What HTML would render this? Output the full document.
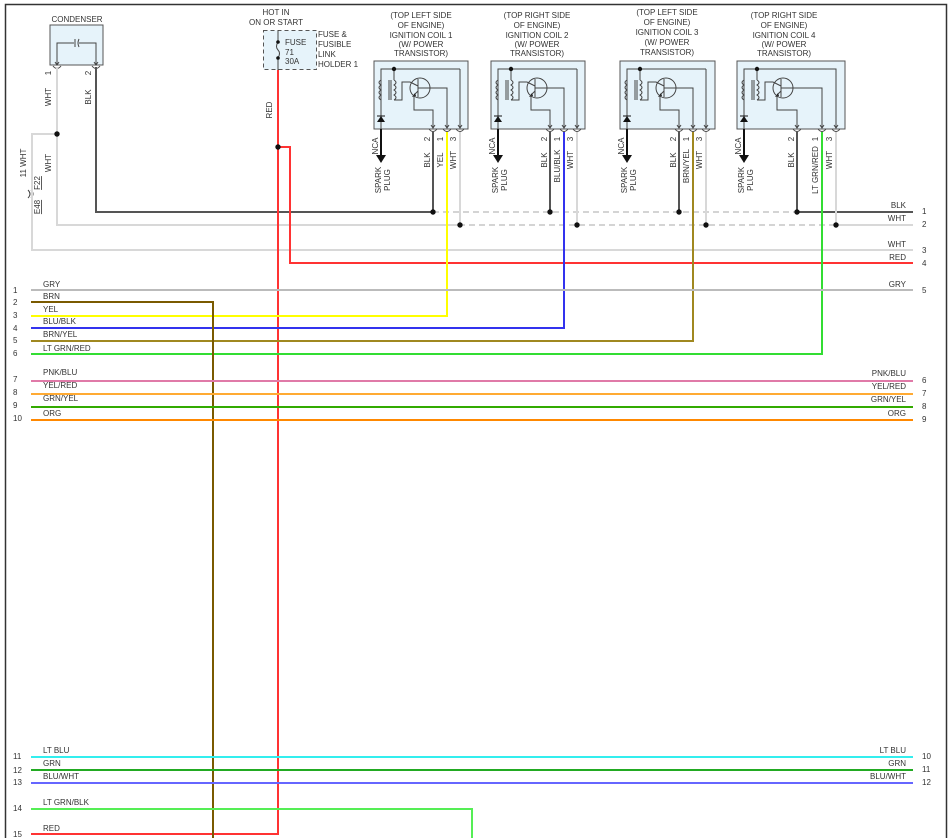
<!DOCTYPE html>
<html><head><meta charset="utf-8"><style>
html,body{margin:0;padding:0;background:#fff;}
svg{display:block;font-family:"Liberation Sans",sans-serif;font-size:8px;fill:#333;}
</style></head><body>
<svg width="952" height="838" viewBox="0 0 952 838" xmlns="http://www.w3.org/2000/svg">
<rect x="5.5" y="4.5" width="941" height="840" fill="none" stroke="#333" stroke-width="1.5"/>

<!-- Condenser -->
<text x="77" y="22" text-anchor="middle">CONDENSER</text>
<rect x="50" y="25" width="53" height="40" fill="#e6f3fa" stroke="#555"/>
<polyline points="57,65 57,43 74,43" fill="none" stroke="#444"/>
<polyline points="79,43 96,43 96,65" fill="none" stroke="#444"/>
<line x1="75" y1="39" x2="75" y2="47" stroke="#444"/><path d="M79,39 Q77,43 79,47" fill="none" stroke="#444"/>
<path d="M53,66 q4,5 8,0 M92,66 q4,5 8,0" fill="none" stroke="#444"/>
<path d="M55,62 l2,3 l2,-3 M94,62 l2,3 l2,-3" fill="none" stroke="#444"/>
<text transform="translate(51,73) rotate(-90)" text-anchor="middle">1</text>
<text transform="translate(91,73) rotate(-90)" text-anchor="middle">2</text>
<text transform="translate(51,97) rotate(-90)" text-anchor="middle">WHT</text>
<text transform="translate(91,97) rotate(-90)" text-anchor="middle">BLK</text>
<text transform="translate(51,163) rotate(-90)" text-anchor="middle">WHT</text>
<text transform="translate(26,163) rotate(-90)" text-anchor="middle">11  WHT</text>
<text transform="translate(40,183) rotate(-90)" text-anchor="middle" text-decoration="underline">F22</text>
<text transform="translate(40,207) rotate(-90)" text-anchor="middle" text-decoration="underline">E48</text>
<path d="M28,190 q4,4 0,8 M31,190 q4,4 0,8" fill="none" stroke="#444"/>

<!-- WHT/BLK from condenser -->
<polyline points="57,67 57,225 459,225" fill="none" stroke="#d8d8d8" stroke-width="2"/>
<polyline points="57,134 32,134 32,250 913,250" fill="none" stroke="#d8d8d8" stroke-width="2"/>
<circle cx="57" cy="134" r="2.7" fill="#111"/>
<polyline points="96,67 96,212 433,212" fill="none" stroke="#555" stroke-width="2"/>

<!-- Fuse -->
<text x="276" y="15" text-anchor="middle">HOT IN</text>
<text x="276" y="25" text-anchor="middle">ON OR START</text>
<rect x="263.5" y="30.5" width="53" height="39" fill="#e6f3fa" stroke="#555" stroke-dasharray="4,3"/>
<line x1="278" y1="30" x2="278" y2="42" stroke="#444"/>
<path d="M278,42 q-3,5 0,8 q3,3 0,8" fill="none" stroke="#444"/>
<line x1="278" y1="58" x2="278" y2="70" stroke="#444"/>
<circle cx="278" cy="42" r="1.8" fill="#111"/><circle cx="278" cy="58" r="1.8" fill="#111"/>
<text x="285" y="45">FUSE</text><text x="285" y="55">71</text><text x="285" y="64">30A</text>
<text x="318" y="37">FUSE &amp;</text><text x="318" y="47">FUSIBLE</text><text x="318" y="57">LINK</text><text x="318" y="67">HOLDER 1</text>
<polyline points="278,70 278,834 31,834" fill="none" stroke="#f33" stroke-width="2"/>
<polyline points="278,147 290,147 290,263 913,263" fill="none" stroke="#f33" stroke-width="2"/>
<circle cx="278" cy="147" r="2.7" fill="#111"/>
<text transform="translate(272,110) rotate(-90)" text-anchor="middle">RED</text>

<!-- Bus dashes -->
<line x1="433" y1="212" x2="797" y2="212" stroke="#aaa" stroke-dasharray="6,4"/>
<line x1="459" y1="225" x2="836" y2="225" stroke="#aaa" stroke-dasharray="6,4"/>
<line x1="797" y1="212" x2="913" y2="212" stroke="#555" stroke-width="2"/>
<line x1="836" y1="225" x2="913" y2="225" stroke="#d8d8d8" stroke-width="2"/>
<text x="906" y="208" text-anchor="end">BLK</text><text x="922" y="214">1</text>
<text x="906" y="221" text-anchor="end">WHT</text><text x="922" y="227">2</text>
<text x="906" y="247" text-anchor="end">WHT</text><text x="922" y="253">3</text>
<text x="906" y="260" text-anchor="end">RED</text><text x="922" y="266">4</text>

<!-- Coil definitions -->
<defs>
<g id="coilint">
  <polyline points="381,129 381,69 460,69" fill="none" stroke="#444"/>
  <path d="M381,80 q-4,2.5 0,5 q-4,2.5 0,5 q-4,2.5 0,5 q-4,2.5 0,5" fill="none" stroke="#444"/>
  <line x1="389" y1="80" x2="389" y2="100" stroke="#444"/>
  <line x1="391" y1="80" x2="391" y2="100" stroke="#444"/>
  <polyline points="394,69 394,80" fill="none" stroke="#444"/>
  <path d="M394,80 q4,2.5 0,5 q4,2.5 0,5 q4,2.5 0,5 q4,2.5 0,5" fill="none" stroke="#444"/>
  <polyline points="394,100 402,100 402,82 410,82" fill="none" stroke="#444"/>
  <circle cx="394" cy="69" r="2.2" fill="#111"/>
  <circle cx="420" cy="88" r="10" fill="none" stroke="#444"/>
  <line x1="418" y1="79" x2="418" y2="97" stroke="#444"/>
  <line x1="410" y1="82" x2="418" y2="86" stroke="#444"/>
  <line x1="418" y1="88" x2="430" y2="88" stroke="#444"/>
  <line x1="418" y1="91" x2="414" y2="95" stroke="#444"/>
  <path d="M412,97 l4,-1 l-1,-3z" fill="#222"/>
  <polygon points="377,122 385,122 381,116" fill="#111"/>
  <line x1="377" y1="116" x2="385" y2="116" stroke="#111"/>
  <line x1="381" y1="129" x2="381" y2="155" stroke="#111" stroke-width="2"/>
  <polygon points="376,155 386,155 381,163" fill="#111"/>
  <text transform="translate(378,146) rotate(-90)" text-anchor="middle">NCA</text>
  <text transform="translate(381,180) rotate(-90)" text-anchor="middle">SPARK</text>
  <text transform="translate(390,180) rotate(-90)" text-anchor="middle">PLUG</text>
</g>
<path id="pin" d="M-4,129 q4,5 8,0 M-2,125 l2,3 l2,-3" fill="none" stroke="#444"/>
</defs>

<!-- Coil 1 -->
<g>
<text x="421" y="18" text-anchor="middle">(TOP LEFT SIDE</text><text x="421" y="28" text-anchor="middle">OF ENGINE)</text><text x="421" y="38" text-anchor="middle">IGNITION COIL 1</text><text x="421" y="47" text-anchor="middle">(W/ POWER</text><text x="421" y="56" text-anchor="middle">TRANSISTOR)</text>
<rect x="374" y="61" width="94" height="68" fill="#e6f3fa" stroke="#555"/>
<use href="#coilint"/>
<polyline points="460,69 460,128" fill="none" stroke="#444"/>
<polyline points="430,88 447,88 447,128" fill="none" stroke="#444"/>
<polyline points="414,95 414,110 433,110 433,128" fill="none" stroke="#444"/>
<use href="#pin" x="433"/><use href="#pin" x="447"/><use href="#pin" x="460"/>
<text transform="translate(430,139) rotate(-90)" text-anchor="middle">2</text>
<text transform="translate(443,139) rotate(-90)" text-anchor="middle">1</text>
<text transform="translate(456,139) rotate(-90)" text-anchor="middle">3</text>
<text transform="translate(430,160) rotate(-90)" text-anchor="middle">BLK</text>
<text transform="translate(443,160) rotate(-90)" text-anchor="middle">YEL</text>
<text transform="translate(456,160) rotate(-90)" text-anchor="middle">WHT</text>
<line x1="433" y1="132" x2="433" y2="212" stroke="#555" stroke-width="2"/>
<line x1="460" y1="132" x2="460" y2="225" stroke="#d8d8d8" stroke-width="2"/>
<polyline points="447,132 447,316 31,316" fill="none" stroke="#ff0" stroke-width="2"/>
<circle cx="433" cy="212" r="2.7" fill="#111"/><circle cx="460" cy="225" r="2.7" fill="#111"/>
</g>

<!-- Coil 2 -->
<g>
<text x="537" y="18" text-anchor="middle">(TOP RIGHT SIDE</text><text x="537" y="28" text-anchor="middle">OF ENGINE)</text><text x="537" y="38" text-anchor="middle">IGNITION COIL 2</text><text x="537" y="47" text-anchor="middle">(W/ POWER</text><text x="537" y="56" text-anchor="middle">TRANSISTOR)</text>
<rect x="491" y="61" width="94" height="68" fill="#e6f3fa" stroke="#555"/>
<g transform="translate(117,0)"><use href="#coilint"/>
<polyline points="460,69 460,128" fill="none" stroke="#444"/>
<polyline points="430,88 447,88 447,128" fill="none" stroke="#444"/>
<polyline points="414,95 414,110 433,110 433,128" fill="none" stroke="#444"/>
<use href="#pin" x="433"/><use href="#pin" x="447"/><use href="#pin" x="460"/>
<text transform="translate(430,139) rotate(-90)" text-anchor="middle">2</text>
<text transform="translate(443,139) rotate(-90)" text-anchor="middle">1</text>
<text transform="translate(456,139) rotate(-90)" text-anchor="middle">3</text>
<text transform="translate(430,160) rotate(-90)" text-anchor="middle">BLK</text>
<text transform="translate(443,166) rotate(-90)" text-anchor="middle">BLU/BLK</text>
<text transform="translate(456,160) rotate(-90)" text-anchor="middle">WHT</text>
<line x1="433" y1="132" x2="433" y2="212" stroke="#555" stroke-width="2"/>
<line x1="460" y1="132" x2="460" y2="225" stroke="#d8d8d8" stroke-width="2"/>
<circle cx="433" cy="212" r="2.7" fill="#111"/><circle cx="460" cy="225" r="2.7" fill="#111"/>
</g>
<polyline points="564,132 564,328 31,328" fill="none" stroke="#33e" stroke-width="2"/>
</g>

<!-- Coil 3 -->
<g>
<text x="667" y="15" text-anchor="middle">(TOP LEFT SIDE</text><text x="667" y="25" text-anchor="middle">OF ENGINE)</text><text x="667" y="35" text-anchor="middle">IGNITION COIL 3</text><text x="667" y="45" text-anchor="middle">(W/ POWER</text><text x="667" y="55" text-anchor="middle">TRANSISTOR)</text>
<rect x="620" y="61" width="95" height="68" fill="#e6f3fa" stroke="#555"/>
<g transform="translate(246,0)"><use href="#coilint"/>
<polyline points="460,69 460,128" fill="none" stroke="#444"/>
<polyline points="430,88 447,88 447,128" fill="none" stroke="#444"/>
<polyline points="414,95 414,110 433,110 433,128" fill="none" stroke="#444"/>
<use href="#pin" x="433"/><use href="#pin" x="447"/><use href="#pin" x="460"/>
<text transform="translate(430,139) rotate(-90)" text-anchor="middle">2</text>
<text transform="translate(443,139) rotate(-90)" text-anchor="middle">1</text>
<text transform="translate(456,139) rotate(-90)" text-anchor="middle">3</text>
<text transform="translate(430,160) rotate(-90)" text-anchor="middle">BLK</text>
<text transform="translate(443,166) rotate(-90)" text-anchor="middle">BRN/YEL</text>
<text transform="translate(456,160) rotate(-90)" text-anchor="middle">WHT</text>
<line x1="433" y1="132" x2="433" y2="212" stroke="#555" stroke-width="2"/>
<line x1="460" y1="132" x2="460" y2="225" stroke="#d8d8d8" stroke-width="2"/>
<circle cx="433" cy="212" r="2.7" fill="#111"/><circle cx="460" cy="225" r="2.7" fill="#111"/>
</g>
<polyline points="693,132 693,341 31,341" fill="none" stroke="#a08820" stroke-width="2"/>
</g>

<!-- Coil 4 -->
<g>
<text x="784" y="18" text-anchor="middle">(TOP RIGHT SIDE</text><text x="784" y="28" text-anchor="middle">OF ENGINE)</text><text x="784" y="38" text-anchor="middle">IGNITION COIL 4</text><text x="784" y="47" text-anchor="middle">(W/ POWER</text><text x="784" y="56" text-anchor="middle">TRANSISTOR)</text>
<rect x="737" y="61" width="108" height="68" fill="#e6f3fa" stroke="#555"/>
<g transform="translate(363,0)"><use href="#coilint"/></g>
<polyline points="823,69 836,69 836,128" fill="none" stroke="#444"/>
<polyline points="793,88 822,88 822,128" fill="none" stroke="#444"/>
<polyline points="777,95 777,110 797,110 797,128" fill="none" stroke="#444"/>
<use href="#pin" x="797"/><use href="#pin" x="822"/><use href="#pin" x="836"/>
<text transform="translate(794,139) rotate(-90)" text-anchor="middle">2</text>
<text transform="translate(818,139) rotate(-90)" text-anchor="middle">1</text>
<text transform="translate(832,139) rotate(-90)" text-anchor="middle">3</text>
<text transform="translate(794,160) rotate(-90)" text-anchor="middle">BLK</text>
<text transform="translate(818,170) rotate(-90)" text-anchor="middle">LT GRN/RED</text>
<text transform="translate(832,160) rotate(-90)" text-anchor="middle">WHT</text>
<line x1="797" y1="132" x2="797" y2="212" stroke="#555" stroke-width="2"/>
<line x1="836" y1="132" x2="836" y2="225" stroke="#d8d8d8" stroke-width="2"/>
<polyline points="822,132 822,354 31,354" fill="none" stroke="#3d3" stroke-width="2"/>
<circle cx="797" cy="212" r="2.7" fill="#111"/><circle cx="836" cy="225" r="2.7" fill="#111"/>
</g>

<!-- Left harness wires -->
<line x1="31" y1="290" x2="913" y2="290" stroke="#bbb" stroke-width="2"/>
<polyline points="31,302 213,302 213,838" fill="none" stroke="#7a5a00" stroke-width="2"/>
<line x1="31" y1="381" x2="913" y2="381" stroke="#e07aa8" stroke-width="2"/>
<line x1="31" y1="394" x2="913" y2="394" stroke="#fa3" stroke-width="2"/>
<line x1="31" y1="407" x2="913" y2="407" stroke="#3a0" stroke-width="2"/>
<line x1="31" y1="420" x2="913" y2="420" stroke="#f80" stroke-width="2"/>
<line x1="31" y1="757" x2="913" y2="757" stroke="#3ee" stroke-width="2"/>
<line x1="31" y1="770" x2="913" y2="770" stroke="#2a2" stroke-width="2"/>
<line x1="31" y1="783" x2="913" y2="783" stroke="#66f" stroke-width="2"/>
<polyline points="31,809 472,809 472,838" fill="none" stroke="#5e5" stroke-width="2"/>

<g>
<text x="43" y="287">GRY</text><text x="43" y="299">BRN</text><text x="43" y="312">YEL</text><text x="43" y="324">BLU/BLK</text><text x="43" y="337">BRN/YEL</text><text x="43" y="351">LT GRN/RED</text>
<text x="43" y="375">PNK/BLU</text><text x="43" y="388">YEL/RED</text><text x="43" y="401">GRN/YEL</text><text x="43" y="416">ORG</text>
<text x="43" y="753">LT BLU</text><text x="43" y="766">GRN</text><text x="43" y="779">BLU/WHT</text><text x="43" y="805">LT GRN/BLK</text><text x="43" y="831">RED</text>
<text x="13" y="293">1</text><text x="13" y="305">2</text><text x="13" y="318">3</text><text x="13" y="331">4</text><text x="13" y="343">5</text><text x="13" y="356">6</text>
<text x="13" y="382">7</text><text x="13" y="395">8</text><text x="13" y="408">9</text><text x="13" y="421">10</text>
<text x="13" y="759">11</text><text x="13" y="773">12</text><text x="13" y="785">13</text><text x="13" y="811">14</text><text x="13" y="837">15</text>
<text x="906" y="287" text-anchor="end">GRY</text><text x="922" y="293">5</text>
<text x="906" y="376" text-anchor="end">PNK/BLU</text><text x="922" y="383">6</text>
<text x="906" y="389" text-anchor="end">YEL/RED</text><text x="922" y="396">7</text>
<text x="906" y="402" text-anchor="end">GRN/YEL</text><text x="922" y="409">8</text>
<text x="906" y="416" text-anchor="end">ORG</text><text x="922" y="422">9</text>
<text x="906" y="753" text-anchor="end">LT BLU</text><text x="922" y="759">10</text>
<text x="906" y="766" text-anchor="end">GRN</text><text x="922" y="772">11</text>
<text x="906" y="779" text-anchor="end">BLU/WHT</text><text x="922" y="785">12</text>
</g>
</svg>
</body></html>
